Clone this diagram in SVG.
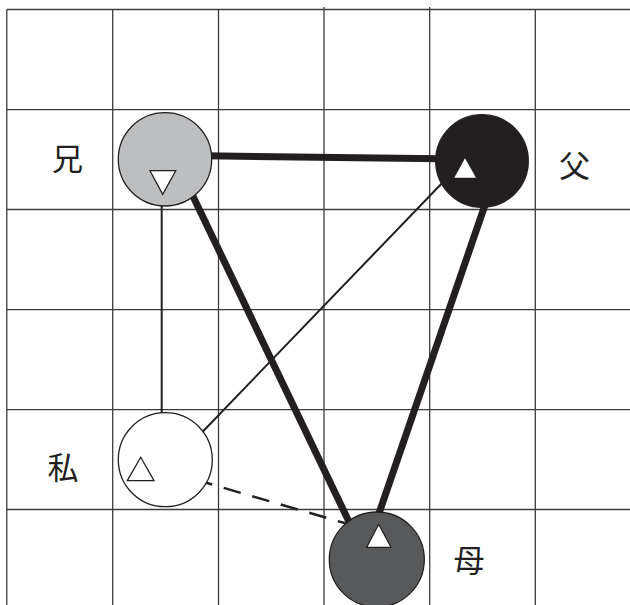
<svg xmlns="http://www.w3.org/2000/svg" width="630" height="605" viewBox="0 0 630 605">
<style>
.grid{stroke:#3c3c3c;stroke-width:1.3;fill:none}
.thick{stroke:#231f20;stroke-width:7;fill:none}
.thin{stroke:#231f20;stroke-width:2;fill:none}
.dash{stroke:#231f20;stroke-width:2.5;fill:none;stroke-dasharray:17.7 12}
.node{stroke:#231f20;stroke-width:1.3}
.tri{fill:#ffffff;stroke:#231f20;stroke-width:1.3}
.lbl{font-family:"Noto Sans CJK JP","Noto Sans CJK SC",sans-serif;font-size:31px;fill:#231f20;text-anchor:middle}
</style>
<rect width="630" height="605" fill="#ffffff"/>
<g id="grid" class="grid">
<line x1="6.8" y1="9.5" x2="630" y2="9.5"/>
<line x1="6.8" y1="109.7" x2="630" y2="109.7"/>
<line x1="6.8" y1="209.5" x2="630" y2="209.5"/>
<line x1="6.8" y1="309.7" x2="630" y2="309.7"/>
<line x1="6.8" y1="409.7" x2="630" y2="409.7"/>
<line x1="6.8" y1="509.5" x2="630" y2="509.5"/>
<line x1="6.8" y1="9.5" x2="6.8" y2="605"/>
<line x1="112.7" y1="9.5" x2="112.7" y2="605"/>
<line x1="218.5" y1="9.5" x2="218.5" y2="605"/>
<line x1="324" y1="7" x2="324" y2="605"/>
<line x1="429.7" y1="7" x2="429.7" y2="605"/>
<line x1="535.3" y1="9.5" x2="535.3" y2="605"/>
</g>
<g id="connectors">
<line class="thick" x1="205" y1="155.8" x2="440" y2="158.8"/>
<line class="thick" x1="190" y1="190" x2="352" y2="528"/>
<line class="thick" x1="485" y1="205" x2="376" y2="522"/>
<line class="thin" x1="161.7" y1="200" x2="161.7" y2="415"/>
<line class="thin" x1="200" y1="434.5" x2="446" y2="179"/>
<line class="dash" x1="195.2" y1="479.6" x2="345.4" y2="523.3"/>
</g>
<g id="node-ani">
<circle class="node" cx="165" cy="159.3" r="46.7" fill="#bcbec0"/>
<polygon class="tri" points="150,170.7 175.7,170.7 162.7,194.3"/>
<text class="lbl" x="67.5" y="170">兄</text>
</g>
<g id="node-chichi">
<circle class="node" cx="482" cy="161" r="46.3" fill="#231f20"/>
<polygon points="454.3,177.7 476,177.7 465,158.3" fill="#ffffff"/>
<text class="lbl" x="574.5" y="177">父</text>
</g>
<g id="node-watashi">
<circle class="node" cx="165.3" cy="459.7" r="47" fill="#ffffff"/>
<polygon class="tri" points="127.3,480.7 154,480.7 140.7,457.3"/>
<text class="lbl" x="63" y="479">私</text>
</g>
<g id="node-haha">
<circle class="node" cx="376.8" cy="559.5" r="47.5" fill="#58595b"/>
<polygon class="tri" points="366.7,547.3 391,547.3 378.7,524.3"/>
<text class="lbl" x="469" y="572">母</text>
</g>
</svg>
